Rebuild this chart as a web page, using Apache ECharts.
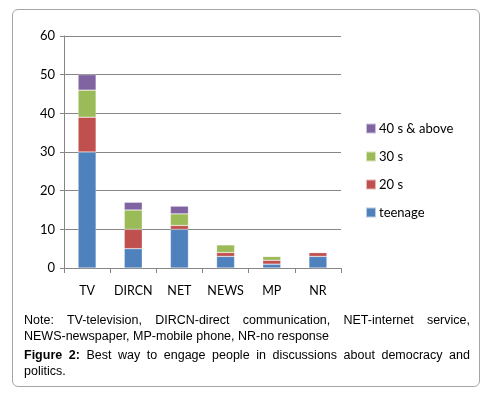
<!DOCTYPE html>
<html><head><meta charset="utf-8">
<script src="https://cdn.jsdelivr.net/npm/echarts@6/dist/echarts.min.js"></script>
<style>
html,body{margin:0;padding:0;background:#fff;}
#wrap{position:relative;width:491px;height:397px;}
#box{position:absolute;left:12px;top:9px;width:468px;height:378px;border:1px solid #a6a6a6;border-radius:6px;box-sizing:border-box;}
#chart{position:absolute;left:0;top:0;width:491px;height:397px;}
#note{position:absolute;left:24px;top:312px;width:446px;font-family:"Liberation Sans",Arial,sans-serif;font-size:12.5px;line-height:16px;color:#000;text-align:justify;}
#note p{margin:0 0 3px 0;}
.nw{white-space:nowrap;}
</style></head>
<body><div id="wrap"><div id="box"></div><div id="chart"></div>
<div id="note"><p>Note: TV-television, DIRCN-direct communication, NET-internet service, <span class="nw">NEWS-newspaper,</span> MP-mobile phone, NR-no response</p>
<p><b>Figure 2:</b> Best way to engage people in discussions about democracy and politics.</p></div></div>
<script>
var categories = ['TV','DIRCN','NET','NEWS','MP','NR'];
var teenage = [30, 5, 10, 3, 1, 3];
var twenties = [9, 5, 1, 1, 1, 1];
var thirties = [7, 5, 3, 2, 1, 0];
var forties = [4, 2, 2, 0, 0, 0];
var seriesNames = ['teenage','20 s','30 s','40 s & above'];
var colors = ['#4F81BD','#C0504D','#9BBB59','#8064A2'];
var yTicks = [0,10,20,30,40,50,60];

var chart = echarts.init(document.getElementById('chart'));
var font = 'Lato, "Open Sans", sans-serif';
var data = [teenage, twenties, thirties, forties];
var series = data.map(function(d,i){
  return {name: seriesNames[i], type:'bar', stack:'all', data:d, barWidth:18,
    itemStyle:{color:colors[i], borderColor:'rgba(255,255,255,0.6)', borderWidth:0.5}};
});
chart.setOption({
  animation:false,
  textStyle:{fontFamily:font},
  grid:{left:64, top:36, width:277, height:232},
  legend:{orient:'vertical', left:365, top:122, padding:0, itemWidth:10, itemHeight:10, itemGap:15,
    data:['40 s & above','30 s','20 s','teenage'],
    textStyle:{fontFamily:font, fontSize:13, color:'#000', padding:[0,0,0,-2]}, icon:'rect'},
  xAxis:{type:'category', data:categories,
    axisLine:{lineStyle:{color:'#868686', width:1}},
    axisTick:{show:true, length:5, lineStyle:{color:'#868686'}, alignWithLabel:false},
    axisLabel:{color:'#000', fontSize:12.5, fontFamily:font, margin:16, interval:0}},
  yAxis:{type:'value', min:yTicks[0], max:yTicks[yTicks.length-1], interval:10,
    axisLine:{show:true, lineStyle:{color:'#868686'}},
    axisTick:{show:true, length:4, lineStyle:{color:'#868686'}},
    splitLine:{lineStyle:{color:'#868686', width:1}},
    axisLabel:{color:'#000', fontSize:13, fontFamily:font, margin:9}},
  series:series
});
</script></body></html>
